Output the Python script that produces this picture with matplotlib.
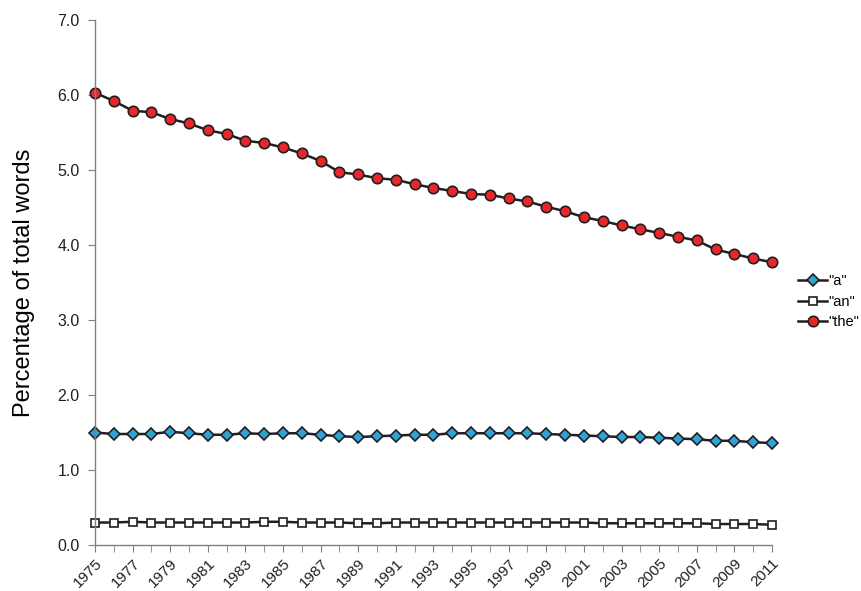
import matplotlib
matplotlib.use("Agg")
import matplotlib.pyplot as plt

plt.rcParams["font.family"] = ["Liberation Sans", "DejaVu Sans"]

years = list(range(1975, 2012))

the_vals = [6.03, 5.92, 5.79, 5.77, 5.68, 5.62, 5.53, 5.48, 5.39, 5.36, 5.30, 5.22, 5.12,
            4.97, 4.94, 4.89, 4.87, 4.81, 4.76, 4.72, 4.68, 4.67, 4.62, 4.58, 4.51, 4.45,
            4.37, 4.32, 4.26, 4.21, 4.16, 4.11, 4.06, 3.94, 3.88, 3.82, 3.77]
a_vals = [1.50, 1.48, 1.48, 1.48, 1.51, 1.49, 1.47, 1.47, 1.49, 1.48, 1.49, 1.49, 1.47,
          1.45, 1.44, 1.45, 1.46, 1.47, 1.47, 1.49, 1.49, 1.49, 1.49, 1.49, 1.48, 1.47,
          1.46, 1.45, 1.44, 1.44, 1.43, 1.42, 1.41, 1.39, 1.39, 1.37, 1.36]
an_vals = [0.30, 0.30, 0.31, 0.30, 0.30, 0.30, 0.30, 0.30, 0.30, 0.31, 0.31, 0.30, 0.30,
           0.30, 0.29, 0.29, 0.30, 0.30, 0.30, 0.30, 0.30, 0.30, 0.30, 0.30, 0.30, 0.30,
           0.30, 0.29, 0.29, 0.29, 0.29, 0.29, 0.29, 0.28, 0.28, 0.28, 0.27]

tick_years = list(range(1975, 2012, 2))
y_ticks = [0.0, 1.0, 2.0, 3.0, 4.0, 5.0, 6.0, 7.0]

fig = plt.figure(figsize=(8.61, 5.91), dpi=100)
ax = fig.add_axes([0.1103, 0.0778, 0.7863, 0.8884])

line_kw = dict(color="#231f20", linewidth=1.8, markeredgecolor="#231f20",
               markeredgewidth=1.2, clip_on=False)
ax.plot(years, a_vals, marker="D", markersize=6, markerfacecolor="#2fa3d6",
        label='"a"', **line_kw)
ax.plot(years, an_vals, marker="s", markersize=6, markerfacecolor="white",
        label='"an"', **line_kw)
ax.plot(years, the_vals, marker="o", markersize=7.5, markerfacecolor="#e8272b",
        label='"the"', **line_kw)

ax.set_xlim(1975, 2011)
ax.set_ylim(0, 7.0)
ax.set_xticks(years, minor=True)
ax.set_xticks(tick_years)
ax.set_xticklabels([str(y) for y in tick_years], rotation=45, ha="right",
                   rotation_mode="anchor", fontsize=11)
ax.set_yticks(y_ticks)
ax.set_yticklabels([f"{v:.1f}" for v in y_ticks], fontsize=11.5)
ax.set_ylabel("Percentage of total words", fontsize=17, labelpad=16)

for s in ["top", "right"]:
    ax.spines[s].set_visible(False)
for s in ["left", "bottom"]:
    ax.spines[s].set_color("#808080")
    ax.spines[s].set_linewidth(1.0)
ax.tick_params(axis="both", which="both", colors="#808080", labelcolor="#231f20",
               direction="out", length=5)
ax.tick_params(axis="x", which="both", pad=3)
ax.tick_params(axis="y", pad=6)

ax.legend(loc="center left", bbox_to_anchor=(1.03, 0.463), frameon=False,
          fontsize=10.5, handlelength=2.0, handletextpad=0.1, labelspacing=0.45,
          borderaxespad=0.0)

fig.savefig("out.png", dpi=100)
